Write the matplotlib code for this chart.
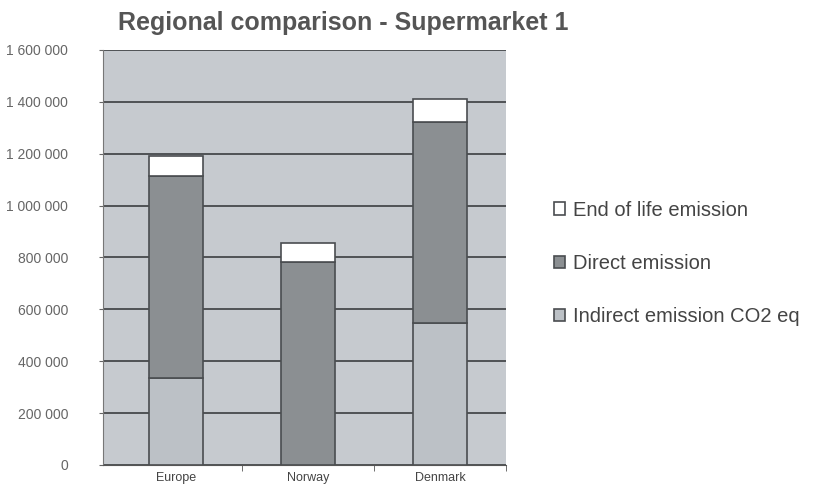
import matplotlib
matplotlib.use("Agg")
import matplotlib.pyplot as plt
import matplotlib.ticker as mticker
import numpy as np

plt.rcParams['font.family'] = ['Liberation Sans', 'DejaVu Sans']

regions = ["Europe", "Norway", "Denmark"]
indirect = [334000, 0, 546000]
direct = [780000, 784000, 777000]
end_of_life = [78000, 73000, 87000]
yticks = [0, 200000, 400000, 600000, 800000, 1000000, 1200000, 1400000, 1600000]

fig = plt.figure(figsize=(8.15, 4.96), dpi=100)
ax = fig.add_axes([0.1264, 0.0625, 0.4945, 0.8367])
ax.set_facecolor("#c6cacf")

x = np.arange(len(regions))
w = 0.41
edge = "#4a4d50"
bottom2 = np.array(indirect)
bottom3 = bottom2 + np.array(direct)
b1 = ax.bar(x, indirect, w, color="#bcc1c6", edgecolor=edge, linewidth=1.2, zorder=3,
            label="Indirect emission CO2 eq")
b2 = ax.bar(x, direct, w, bottom=bottom2, color="#8b8f92", edgecolor=edge, linewidth=1.2, zorder=3,
            label="Direct emission")
b3 = ax.bar(x, end_of_life, w, bottom=bottom3, color="white", edgecolor=edge, linewidth=1.2, zorder=3,
            label="End of life emission")

ax.set_xlim(-0.55, 2.5)
ax.set_ylim(0, 1600000)
ax.set_yticks(yticks)
ax.yaxis.set_major_formatter(mticker.FuncFormatter(lambda v, p: f"{int(v):,}".replace(",", " ")))
ax.grid(axis="y", color="#4f5255", linewidth=1.4, zorder=1)
ax.set_axisbelow(True)

ax.set_xticks(x)
ax.set_xticklabels(regions)
ax.set_xticks([0.5, 1.5, 2.5], minor=True)
ax.tick_params(axis="x", which="major", length=0, pad=5, labelsize=9, colors="#444444")
ax.tick_params(axis="x", which="minor", length=4, color="#555555")
ax.tick_params(axis="y", length=3, pad=22, labelsize=10, colors="#666666")

for s in ["top", "right"]:
    ax.spines[s].set_visible(False)
ax.spines["left"].set_color("#777777")
ax.spines["bottom"].set_color("#555555")

fig.text(0.145, 0.953, "Regional comparison - Supermarket 1", fontsize=18,
         fontweight="bold", color="#555555", ha="left", va="center")

handles = [b3, b2, b1]
leg = fig.legend(handles, [h.get_label() for h in handles], loc="center left",
                 bbox_to_anchor=(0.657, 0.469), frameon=False, fontsize=14.5,
                 handlelength=0.55, handleheight=0.55, handletextpad=0.4, labelspacing=1.7)
for t in leg.get_texts():
    t.set_color("#444444")

fig.savefig("out.png", dpi=100)
